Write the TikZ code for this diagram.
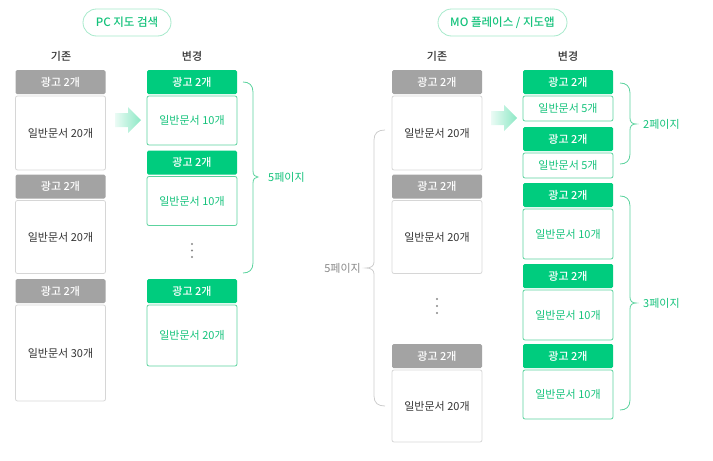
\documentclass[tikz,border=0pt]{standalone}
\usepackage{fontspec}
\setmainfont{Noto Sans CJK KR}[BoldFont={Noto Sans CJK KR Medium}]
\usepackage{tikz}
\usetikzlibrary{positioning}
\definecolor{ngreen}{HTML}{00CC7E}
\definecolor{tgreen}{HTML}{14C27B}
\definecolor{lgreen}{HTML}{5CD39E}
\definecolor{pgreen}{HTML}{A5E9CA}
\definecolor{hgray}{HTML}{A3A3A3}
\definecolor{bgray}{HTML}{D6D6D6}
\definecolor{dtext}{HTML}{333333}
\definecolor{ltext}{HTML}{888888}
\tikzstyle{pill} = [rectangle, rounded corners=13.5pt, draw=pgreen, line width=0.8pt, text=tgreen, font=\fontsize{11.5}{13}\selectfont\bfseries, minimum height=27pt, inner sep=0pt]
\tikzstyle{colhd} = [text=dtext, font=\fontsize{11}{13}\selectfont\bfseries]
\tikzstyle{hdg} = [rectangle, rounded corners=1.5pt, fill=hgray, text=white, font=\fontsize{11}{13}\selectfont\bfseries, minimum width=90pt, minimum height=24pt, inner sep=0pt, outer sep=0pt]
\tikzstyle{hdn} = [hdg, fill=ngreen]
\tikzstyle{bdg} = [rectangle, rounded corners=2pt, draw=bgray, line width=0.8pt, text=dtext, font=\fontsize{11}{13}\selectfont, minimum width=90pt, inner sep=0pt, outer sep=0pt]
\tikzstyle{bdn} = [bdg, draw=lgreen, text=tgreen]
\tikzstyle{gbrace} = [draw=lgreen, line width=0.8pt]
\tikzstyle{ybrace} = [draw=bgray!80!black!60, line width=0.8pt]
\tikzstyle{pgn} = [text=tgreen, font=\fontsize{11}{13}\selectfont, inner sep=0pt, anchor=west]
\tikzstyle{pgy} = [text=ltext, font=\fontsize{11}{13}\selectfont, inner sep=0pt, anchor=east]
\tikzstyle{move} = [left color=ngreen!8, right color=ngreen!45, draw=none]

\begin{document}
\begin{tikzpicture}[x=1pt, y=-1pt]
		\useasboundingbox (0,0) rectangle (713,461);
		% PC
		\node (pc) [pill, minimum width=88pt] at (127,22.5) {PC 지도 검색};
		\node (pcold) [colhd] at (61,56) {기존};
		\node (pcnew) [colhd] at (192,56) {변경};
		\node (pa1) [hdg] at (60.5,82) {광고 2개};
		\node (pb1) [bdg, minimum height=74pt, below=2pt of pa1] {일반문서 20개};
		\node (pa2) [hdg] at (60.5,186.5) {광고 2개};
		\node (pb2) [bdg, minimum height=73pt, below=2pt of pa2] {일반문서 20개};
		\node (pa3) [hdg] at (60.5,291) {광고 2개};
		\node (pb3) [bdg, minimum height=96pt, below=2pt of pa3] {일반문서 30개};
		\node (qa1) [hdn] at (192,82) {광고 2개};
		\node (qb1) [bdn, minimum height=49pt, below=2pt of qa1] {일반문서 10개};
		\node (qa2) [hdn] at (192,162.5) {광고 2개};
		\node (qb2) [bdn, minimum height=49pt, below=2pt of qa2] {일반문서 10개};
		\node (qa3) [hdn] at (192,291) {광고 2개};
		\node (qb3) [bdn, minimum height=61pt, below=2pt of qa3] {일반문서 20개};
		\foreach \y in {244,250.5,257} \fill[ltext] (192,\y) circle (1.1pt);
		\path[move] (115,113) -- (128,113) -- (128,107) -- (141,120) -- (128,133) -- (128,127) -- (115,127) -- cycle;
		\draw[gbrace] (243,82) .. controls (249,82) and (253,85) .. (253,92) -- (253,171) .. controls (253,175) and (255,177) .. (258,177) .. controls (255,177) and (253,179) .. (253,183) -- (253,263) .. controls (253,270) and (249,273) .. (243,273);
		\node (pcpg) [pgn] at (268,177) {5페이지};
		% MO
		\node (mo) [pill, minimum width=129pt] at (502.5,22.5) {MO 플레이스 / 지도앱};
		\node (moold) [colhd] at (437,56) {기존};
		\node (monew) [colhd] at (568,56) {변경};
		\node (ma1) [hdg] at (437,82) {광고 2개};
		\node (mb1) [bdg, minimum height=74pt, below=2pt of ma1] {일반문서 20개};
		\node (ma2) [hdg] at (437,186.5) {광고 2개};
		\node (mb2) [bdg, minimum height=73pt, below=2pt of ma2] {일반문서 20개};
		\node (ma3) [hdg] at (437,356) {광고 2개};
		\node (mb3) [bdg, minimum height=72pt, below=2pt of ma3] {일반문서 20개};
		\node (na1) [hdn] at (568,82) {광고 2개};
		\node (nb1) [bdn, minimum height=25pt, below=2pt of na1] {일반문서 5개};
		\node (na2) [hdn] at (568,139) {광고 2개};
		\node (nb2) [bdn, minimum height=25pt, below=2pt of na2] {일반문서 5개};
		\node (na3) [hdn] at (568,195) {광고 2개};
		\node (nb3) [bdn, minimum height=50pt, below=2pt of na3] {일반문서 10개};
		\node (na4) [hdn] at (568,276) {광고 2개};
		\node (nb4) [bdn, minimum height=50pt, below=2pt of na4] {일반문서 10개};
		\node (na5) [hdn] at (568,356) {광고 2개};
		\node (nb5) [bdn, minimum height=49pt, below=2pt of na5] {일반문서 10개};
		\foreach \y in {299,306,313} \fill[ltext] (437,\y) circle (1.1pt);
		\path[move] (491,111) -- (504,111) -- (504,105) -- (517,118) -- (504,131) -- (504,125) -- (491,125) -- cycle;
		\draw[ybrace] (385,130) .. controls (378,130) and (374,133) .. (374,140) -- (374,262) .. controls (374,266) and (371,268) .. (366,268) .. controls (371,268) and (374,270) .. (374,274) -- (374,396) .. controls (374,403) and (378,406) .. (385,406);
		\node (mopg) [pgy] at (361,268) {5페이지};
		\draw[gbrace] (620,83) .. controls (626,83) and (630,86) .. (630,93) -- (630,118) .. controls (630,122) and (632,124) .. (636,124) .. controls (632,124) and (630,126) .. (630,130) -- (630,154) .. controls (630,161) and (626,164) .. (620,164);
		\node (pg2) [pgn] at (643,124) {2페이지};
		\draw[gbrace] (620,196) .. controls (626,196) and (630,199) .. (630,206) -- (630,297) .. controls (630,301) and (632,303) .. (636,303) .. controls (632,303) and (630,305) .. (630,309) -- (630,400) .. controls (630,407) and (626,410) .. (620,410);
		\node (pg3) [pgn] at (643,303) {3페이지};
\end{tikzpicture}
\end{document}
